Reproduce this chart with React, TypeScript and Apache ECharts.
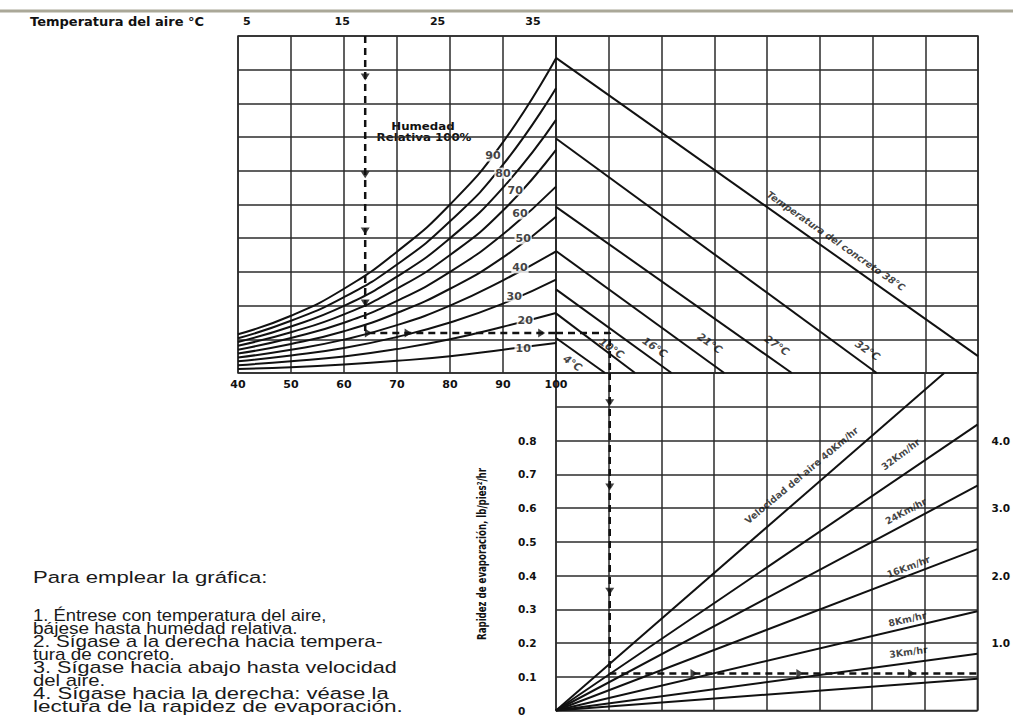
import React, { useEffect, useRef } from 'react';
import * as echarts from 'echarts';

// ---------- data ----------
const airTempF = [40, 50, 60, 70, 80, 90, 100];
const airTempCTicks = [5, 15, 25, 35];
// vapour-pressure curves (grid rows) per relative humidity, read at airTempF
const rh100 = [1.15, 1.70, 2.50, 3.60, 5.00, 6.85, 9.34];
const rh90 = [1.03, 1.55, 2.25, 3.22, 4.50, 6.18, 8.45];
const rh80 = [0.92, 1.38, 1.99, 2.86, 4.00, 5.50, 7.51];
const rh70 = [0.81, 1.21, 1.74, 2.50, 3.50, 4.82, 6.62];
const rh60 = [0.69, 1.04, 1.49, 2.14, 3.00, 4.12, 5.53];
const rh50 = [0.58, 0.86, 1.24, 1.78, 2.50, 3.43, 4.64];
const rh40 = [0.46, 0.69, 0.99, 1.42, 2.00, 2.75, 3.61];
const rh30 = [0.35, 0.52, 0.74, 1.07, 1.50, 2.06, 2.77];
const rh20 = [0.23, 0.35, 0.49, 0.71, 1.00, 1.37, 1.78];
const rh10 = [0.12, 0.17, 0.25, 0.36, 0.50, 0.69, 0.89];
const rhCurves = [rh100, rh90, rh80, rh70, rh60, rh50, rh40, rh30, rh20, rh10];
const rhLabels = ['90', '80', '70', '60', '50', '40', '30', '20', '10'];
const rhLabelPos = [[88.1, 6.44], [90.0, 5.93], [92.3, 5.43], [93.2, 4.72], [93.8, 3.98], [93.2, 3.12], [92.1, 2.28], [94.2, 1.57], [93.8, 0.74]];

// concrete temperature lines: start y at x=0, end point
const concreteNames = ['38°C', '32°C', '27°C', '21°C', '16°C', '10°C', '4°C'];
const concreteStart = [9.35, 6.96, 4.93, 3.62, 2.48, 1.77, 1.04];
const concreteEndX = [8.0, 6.08, 4.47, 3.19, 2.19, 1.50, 0.93];
const concreteEndY = [0.5, 0, 0, 0, 0, 0, 0];
const concreteLabels = ['Temperatura del concreto 38°C', '32°C', '27°C', '21°C', '16°C', '10°C', '4°C'];
const concreteLabelPos = [[5.31, 3.92], [5.91, 0.68], [4.19, 0.83], [2.92, 0.89], [1.88, 0.77], [1.06, 0.74], [0.32, 0.30]];

// wind speed lines (evaporation rate at end point)
const windEndX = [7.37, 8, 8, 8, 8, 8, 8];
const windEndY = [1.0, 0.847, 0.666, 0.478, 0.294, 0.168, 0.094];
const windLabels = ['Velocidad del aire 40Km/hr', '32Km/hr', '24Km/hr', '16Km/hr', '8Km/hr', '3Km/hr'];
const windLabelPos = [[4.66, 0.697], [6.54, 0.759], [6.64, 0.591], [6.69, 0.426], [6.67, 0.271], [6.69, 0.174]];
const windLabelRot = [40, 37, 28, 21, 13, 8];

const evapTicks = [0, 0.1, 0.2, 0.3, 0.4, 0.5, 0.6, 0.7, 0.8];
const evapKgTicks = [1, 2, 3, 4];

// example reading path
const exAirF = 64;
const exRow = 1.19;
const exX = 1.02;
const exEvap = 0.11;
const arrowsA = [8.78, 5.88, 4.21, 2.08];
const arrowsAH = [64.6, 72.1, 97.3];
const arrowsCV = [0.912, 0.662, 0.353];
const arrowsCH = [2.62, 4.63, 6.75];

const instructions = [
  '1. Éntrese con temperatura del aire,',
  'bájese hasta humedad relativa.',
  '2. Sígase a la derecha hacia tempera-',
  'tura de concreto.',
  '3. Sígase hacia abajo hasta velocidad',
  'del aire.',
  '4. Sígase hacia la derecha: véase la',
  'lectura de la rapidez de evaporación.',
];
const instructionStretch = [1.15, 1.19, 1.29, 1.18, 1.35, 1.27, 1.38, 1.41];

// ---------- option ----------
const INK = '#111';
const GRIDC = '#2b2b2b';
const boldFont = { fontFamily: 'DejaVu Sans', fontWeight: 'bold' as const, color: INK };
const bodyFont = 'Liberation Sans, Arial, sans-serif';

function buildOption() {
  const splitLine = { show: true, lineStyle: { color: GRIDC, width: 1.5 } };
  const hiddenAxis = { axisLine: { show: false }, axisTick: { show: false } };
  const series: any[] = [];

  rhCurves.forEach((c, i) => {
    series.push({
      type: 'line', xAxisIndex: 0, yAxisIndex: 0, name: 'RH' + (100 - i * 10),
      data: airTempF.map((t, k) => [t, c[k]]), smooth: 0.5,
      showSymbol: false, lineStyle: { color: INK, width: 2 }, z: 3,
    });
  });
  concreteStart.forEach((s, i) => {
    series.push({
      type: 'line', xAxisIndex: 2, yAxisIndex: 1, name: concreteNames[i],
      data: [[0, s], [concreteEndX[i], concreteEndY[i]]],
      showSymbol: false, lineStyle: { color: INK, width: 2 }, z: 3,
    });
  });
  windEndX.forEach((x, i) => {
    series.push({
      type: 'line', xAxisIndex: 3, yAxisIndex: 2, name: 'wind' + i,
      data: [[0, 0], [x, windEndY[i]]],
      showSymbol: false, lineStyle: { color: INK, width: 2 }, z: 3,
    });
  });

  const dash = { color: INK, width: 2.5, type: [7, 5] };
  series.push({ type: 'line', xAxisIndex: 0, yAxisIndex: 0, data: [[exAirF, 10], [exAirF, exRow], [100, exRow]], showSymbol: false, lineStyle: dash, z: 4 });
  series.push({ type: 'line', xAxisIndex: 2, yAxisIndex: 1, data: [[0, exRow], [exX, exRow], [exX, 0]], showSymbol: false, lineStyle: dash, z: 4 });
  series.push({ type: 'line', xAxisIndex: 3, yAxisIndex: 2, data: [[exX, 1], [exX, exEvap], [8, exEvap]], showSymbol: false, lineStyle: dash, z: 4 });

  const tri = (xi: number, yi: number, pts: number[][], rot: number) => ({
    type: 'scatter', xAxisIndex: xi, yAxisIndex: yi, data: pts, symbol: 'triangle',
    symbolSize: [9, 7], symbolRotate: rot, itemStyle: { color: INK }, z: 6, silent: true,
  });
  series.push(tri(0, 0, arrowsA.map((y) => [exAirF, y]), 180));
  series.push(tri(0, 0, arrowsAH.map((x) => [x, exRow]), -90));
  series.push(tri(3, 2, arrowsCV.map((y) => [exX, y]), 180));
  series.push(tri(3, 2, arrowsCH.map((x) => [x, exEvap]), -90));

  const labelSeries = (xi: number, yi: number, names: string[], pos: number[][], rot: number[] | number, fs: number, extra: any = {}) => ({
    type: 'scatter', xAxisIndex: xi, yAxisIndex: yi, symbol: 'circle', symbolSize: 1,
    itemStyle: { color: 'rgba(0,0,0,0)' }, z: 8, silent: true,
    data: names.map((n, i) => ({
      value: pos[i], name: n,
      label: { rotate: Array.isArray(rot) ? rot[i] : rot },
    })),
    label: {
      show: true, position: 'inside', formatter: '{b}', fontSize: fs, ...boldFont,
      backgroundColor: '#fff', padding: [0, 1], ...extra,
    },
  });
  series.push(labelSeries(0, 0, rhLabels, rhLabelPos, 0, 11));
  series.push(labelSeries(2, 1, concreteLabels.slice(0, 1), concreteLabelPos.slice(0, 1), -35, 9.5, { fontStyle: 'italic', backgroundColor: 'transparent' }));
  series.push(labelSeries(2, 1, concreteLabels.slice(1), concreteLabelPos.slice(1), -35, 10.5, { fontStyle: 'italic', backgroundColor: 'transparent' }));
  series.push(labelSeries(3, 2, windLabels, windLabelPos, windLabelRot, 9.5, { backgroundColor: 'transparent' }));

  const instrGraphics = instructions.map((t, i) => ({
    type: 'text', x: 33, y: 615 + i * 13.1, scaleX: instructionStretch[i],
    style: { text: t, fontFamily: bodyFont, fontSize: 16, fill: '#1a1a1a', verticalAlign: 'middle' },
  }));

  return {
    animation: false,
    backgroundColor: '#fff',
    grid: [
      { left: 238, top: 36, width: 318, height: 337, show: true, borderColor: GRIDC, borderWidth: 1.5 },
      { left: 556, top: 36, width: 422, height: 337, show: true, borderColor: GRIDC, borderWidth: 1.5 },
      { left: 556, top: 373, width: 422, height: 340, show: true, borderColor: GRIDC, borderWidth: 1.5 },
    ],
    xAxis: [
      { type: 'value', gridIndex: 0, min: 40, max: 100, interval: 10, position: 'bottom', ...hiddenAxis, splitLine,
        axisLabel: { margin: 6, fontSize: 11, ...boldFont } },
      { type: 'value', gridIndex: 0, min: 4.08, max: 37.41, position: 'top', ...hiddenAxis, splitLine: { show: false },
        axisLabel: { customValues: airTempCTicks, margin: 9, fontSize: 11, ...boldFont } },
      { type: 'value', gridIndex: 1, min: 0, max: 8, interval: 1, ...hiddenAxis, splitLine, axisLabel: { show: false } },
      { type: 'value', gridIndex: 2, min: 0, max: 8, interval: 1, ...hiddenAxis, splitLine, axisLabel: { show: false } },
    ],
    yAxis: [
      { type: 'value', gridIndex: 0, min: 0, max: 10, interval: 1, ...hiddenAxis, splitLine, axisLabel: { show: false } },
      { type: 'value', gridIndex: 1, min: 0, max: 10, interval: 1, ...hiddenAxis, splitLine, axisLabel: { show: false } },
      { type: 'value', gridIndex: 2, min: 0, max: 1, interval: 0.1, ...hiddenAxis, splitLine,
        axisLabel: { customValues: evapTicks, align: 'left', margin: 38, fontSize: 10.5, ...boldFont,
          formatter: (v: number) => (v === 0 ? '0' : v.toFixed(1)) } },
      { type: 'value', gridIndex: 2, min: 0, max: 5, position: 'right', ...hiddenAxis, splitLine: { show: false },
        axisLabel: { customValues: evapKgTicks, margin: 14, fontSize: 10.5, ...boldFont,
          formatter: (v: number) => v.toFixed(1) } },
    ],
    series,
    graphic: [
      { type: 'rect', shape: { x: 0, y: 9.5, width: 1013, height: 3 }, style: { fill: '#aaa898' }, silent: true },
      { type: 'text', x: 30, y: 21, style: { text: 'Temperatura del aire °C', fontSize: 13, fontFamily: 'DejaVu Sans', fontWeight: 'bold', fill: INK, verticalAlign: 'middle' } },
      { type: 'text', x: 423, y: 127, scaleX: 1.18, style: { text: 'Humedad', fontSize: 10, fontFamily: 'DejaVu Sans', fontWeight: 'bold', fill: INK, align: 'center', verticalAlign: 'middle' } },
      { type: 'text', x: 424, y: 138, scaleX: 1.18, style: { text: 'Relativa 100%', fontSize: 10, fontFamily: 'DejaVu Sans', fontWeight: 'bold', fill: INK, align: 'center', verticalAlign: 'middle' } },
      { type: 'text', x: 482, y: 554, rotation: Math.PI / 2, scaleX: 0.69,
        style: { text: 'Rapidez de evaporación, lb/pies²/hr', fontSize: 12.5, fontFamily: 'DejaVu Sans', fontWeight: 'bold', fill: INK, align: 'center', verticalAlign: 'middle' } },
      { type: 'text', x: 33, y: 577, scaleX: 1.3,
        style: { text: 'Para emplear la gráfica:', fontFamily: bodyFont, fontSize: 17, fill: '#1a1a1a', verticalAlign: 'middle' } },
      ...instrGraphics,
    ],
  };
}

export default function App() {
  const ref = useRef<HTMLDivElement>(null);
  useEffect(() => {
    const chart = echarts.init(ref.current!, null, { renderer: 'svg' });
    chart.setOption(buildOption() as any);
    return () => chart.dispose();
  }, []);
  return <div ref={ref} style={{ position: 'fixed', left: 0, top: 0, width: 1013, height: 716, background: '#fff' }} />;
}
